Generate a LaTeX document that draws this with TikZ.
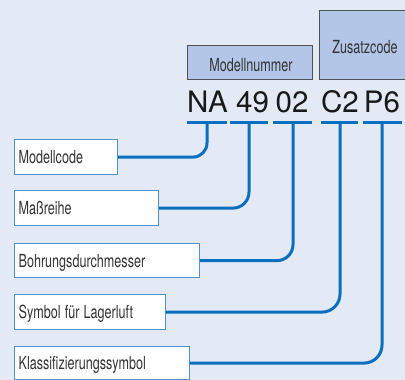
\documentclass[tikz,border=0pt]{standalone}
\usepackage{graphicx}
\usepackage{fontspec}
\newfontfamily\bigfont{TeX Gyre Heros}
\newcommand\cnd[1]{\scalebox{0.7}[1]{#1}}
\definecolor{bgc}{HTML}{E3E9F5}
\definecolor{linec}{HTML}{0A6FBF}
\definecolor{boxline}{HTML}{4A92D4}
\definecolor{topfill}{HTML}{B3C6E7}
\definecolor{topline}{HTML}{505050}
\definecolor{txt}{HTML}{333333}
\tikzset{
  lbl/.style={draw=boxline, line width=1.2pt, fill=white, anchor=north west,
    inner xsep=4pt, inner ysep=0pt, text=txt, align=left,
    font=\bigfont\fontsize{18}{20}\selectfont, text height=13pt, text depth=0pt},
  topbox/.style={draw=topline, line width=0.8pt, fill=topfill, anchor=north west,
    inner sep=0pt},
  toptxt/.style={text=txt, font=\bigfont\fontsize{18}{20}\selectfont, inner sep=0pt},
  big/.style={text=black!90, font=\bigfont\fontsize{29.5}{30}\selectfont, anchor=base, inner sep=0pt},
  bar/.style={draw=linec, line width=3pt},
  conn/.style={draw=linec, line width=3pt}
}
\begin{document}
\begin{tikzpicture}[x=1pt,y=-1pt]
\useasboundingbox (0,0) rectangle (405,380);
\clip (0,0) rectangle (405,380);
\fill[bgc] (0,0) rectangle (405,380);
% top boxes
\node[topbox, minimum width=125pt, minimum height=34pt] (mn) at (187,45) {};
\node[toptxt, anchor=base] (mnt) at (251,71) {\cnd{Modellnummer}};
\node[topbox, minimum width=90pt, minimum height=69pt] (zc) at (319,10) {};
\node[toptxt, anchor=base] (zct) at (365,53) {\cnd{Zusatzcode}};
% code text
\node[big] (t1) at (207.5,112) {NA};
\node[big] (t2) at (252.5,112) {49};
\node[big] (t3) at (292,112) {02};
\node[big] (t4) at (340,112) {C2};
\node[big] (t5) at (382,112) {P6};
% bar segments
\coordinate (s1a) at (187,122); \coordinate (s1b) at (227,122);
\coordinate (s2a) at (230,122); \coordinate (s2b) at (268,122);
\coordinate (s3a) at (273,122); \coordinate (s3b) at (312,122);
\coordinate (s4a) at (321,122); \coordinate (s4b) at (358,122);
\coordinate (s5a) at (363,122); \coordinate (s5b) at (402,122);
\draw[bar] (s1a) -- (s1b);
\draw[bar] (s2a) -- (s2b);
\draw[bar] (s3a) -- (s3b);
\draw[bar] (s4a) -- (s4b);
\draw[bar] (s5a) -- (s5b);
\coordinate (v1) at (207,122);
\coordinate (v2) at (249,122);
\coordinate (v3) at (293,122);
\coordinate (v4) at (340,122);
\coordinate (v5) at (382,122);
% label boxes
\node[lbl, text width=95pt, minimum height=35pt] (b1) at (14,139) {\cnd{Modellcode}};
\node[lbl, text width=136pt, minimum height=35pt] (b2) at (14,190) {\cnd{Maßreihe}};
\node[lbl, text width=177pt, minimum height=34pt] (b3) at (14,243) {\cnd{Bohrungsdurchmesser}};
\node[lbl, text width=143pt, minimum height=35pt] (b4) at (14,294) {\cnd{Symbol für Lagerluft}};
\node[lbl, text width=167pt, minimum height=33pt] (b5) at (14,346) {\cnd{Klassifizierungssymbol}};
% connectors
\draw[conn, rounded corners=14pt] (b1.east) -| (v1);
\draw[conn, rounded corners=16pt] (b2.east) -| (v2);
\draw[conn, rounded corners=16pt] (b3.east) -| (v3);
\draw[conn, rounded corners=18pt] (b4.east) -| (v4);
\draw[conn, rounded corners=18pt] (b5.east) -| (v5);
\end{tikzpicture}
\end{document}
